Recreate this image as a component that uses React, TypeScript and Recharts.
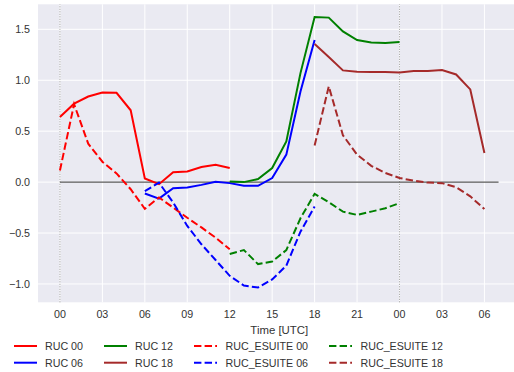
import React from 'react';
import { LineChart, Line, XAxis, YAxis, CartesianGrid, ReferenceLine } from 'recharts';

const hours = [0, 1, 2, 3, 4, 5, 6, 7, 8, 9, 10, 11, 12, 13, 14, 15, 16, 17, 18, 19, 20, 21, 22, 23, 24, 25, 26, 27, 28, 29, 30];
const xTicks = [0, 3, 6, 9, 12, 15, 18, 21, 24, 27, 30];
const yTicks = [-1.0, -0.5, 0.0, 0.5, 1.0, 1.5];

// start hour of each run
const ruc00Start = 0;
const ruc00 = [0.64, 0.77, 0.84, 0.88, 0.877, 0.705, 0.035, -0.02, 0.098, 0.104, 0.148, 0.17, 0.138];
const ruc06Start = 6;
const ruc06 = [-0.112, -0.162, -0.06, -0.053, -0.027, 0.003, -0.01, -0.036, -0.036, 0.04, 0.27, 0.89, 1.395];
const ruc12Start = 12;
const ruc12 = [0.006, 0.0, 0.03, 0.138, 0.4, 1.07, 1.62, 1.615, 1.48, 1.395, 1.37, 1.365, 1.375];
const ruc18Start = 18;
const ruc18 = [1.355, 1.228, 1.097, 1.083, 1.08, 1.08, 1.075, 1.09, 1.09, 1.1, 1.057, 0.91, 0.286];
const esuite00Start = 0;
const esuite00 = [0.114, 0.765, 0.377, 0.2, 0.085, -0.07, -0.262, -0.15, -0.25, -0.35, -0.445, -0.545, -0.66];
const esuite06Start = 6;
const esuite06 = [-0.088, -0.005, -0.2, -0.43, -0.61, -0.765, -0.92, -1.015, -1.035, -0.955, -0.82, -0.487, -0.24];
const esuite12Start = 12;
const esuite12 = [-0.706, -0.667, -0.805, -0.78, -0.667, -0.355, -0.115, -0.197, -0.29, -0.322, -0.29, -0.256, -0.207];
const esuite18Start = 18;
const esuite18 = [0.36, 0.94, 0.46, 0.27, 0.16, 0.09, 0.04, 0.015, -0.005, -0.01, -0.05, -0.14, -0.265];

const seriesDefs = [
  { key: 'RUC 00', start: ruc00Start, values: ruc00, color: '#ff0000', dashed: false },
  { key: 'RUC 06', start: ruc06Start, values: ruc06, color: '#0000ff', dashed: false },
  { key: 'RUC 12', start: ruc12Start, values: ruc12, color: '#008000', dashed: false },
  { key: 'RUC 18', start: ruc18Start, values: ruc18, color: '#a52a2a', dashed: false },
  { key: 'RUC_ESUITE 00', start: esuite00Start, values: esuite00, color: '#ff0000', dashed: true },
  { key: 'RUC_ESUITE 06', start: esuite06Start, values: esuite06, color: '#0000ff', dashed: true },
  { key: 'RUC_ESUITE 12', start: esuite12Start, values: esuite12, color: '#008000', dashed: true },
  { key: 'RUC_ESUITE 18', start: esuite18Start, values: esuite18, color: '#a52a2a', dashed: true },
];

const data = hours.map((h) => {
  const row: Record<string, number | null> = { h };
  seriesDefs.forEach((s) => {
    const i = h - s.start;
    row[s.key] = i >= 0 && i < s.values.length ? s.values[i] : null;
  });
  return row;
});

const FONT = '"Liberation Sans", Arial, sans-serif';
const DASH = '7.4 3.2';

const legendCols = [
  { handleX: 14, textX: 45, items: ['RUC 00', 'RUC 06'] },
  { handleX: 104, textX: 135, items: ['RUC 12', 'RUC 18'] },
  { handleX: 194, textX: 225.5, items: ['RUC_ESUITE 00', 'RUC_ESUITE 06'] },
  { handleX: 329, textX: 360.5, items: ['RUC_ESUITE 12', 'RUC_ESUITE 18'] },
];
const legendRowsY = [346, 362.7];

const fmtHour = (v: number) => String(v % 24).padStart(2, '0');
const fmtY = (v: number) => v.toFixed(1).replace('-', '\u2212');

export default function App() {
  return (
    <div style={{ position: 'absolute', left: 0, top: 0, width: 514, height: 372, overflow: 'hidden', background: '#fff' }}>
      <LineChart
        width={530}
        height={372}
        data={data}
        margin={{ top: 4.3, right: 9.5, bottom: 0, left: 0 }}
        style={{ fontFamily: FONT }}
      >
        <CartesianGrid stroke="#ffffff" strokeWidth={1} fill="#EAEAF2" horizontalValues={yTicks} verticalValues={xTicks} />
        <XAxis
          dataKey="h"
          type="number"
          domain={[-1.55, 32.55]}
          ticks={xTicks}
          tickFormatter={fmtHour}
          axisLine={false}
          tickLine={false}
          height={69.7}
          tick={{ fill: '#333', fontSize: 10.7, fontFamily: FONT }}
          label={{ value: 'Time [UTC]', position: 'insideTop', offset: 24, fill: '#333', fontSize: 11.4, fontFamily: FONT }}
          allowDataOverflow
        />
        <YAxis
          type="number"
          domain={[-1.18, 1.7457]}
          ticks={yTicks}
          tickFormatter={fmtY}
          axisLine={false}
          tickLine={false}
          width={38}
          tick={{ fill: '#333', fontSize: 10.7, fontFamily: FONT }}
          allowDataOverflow
        />
        <ReferenceLine x={0} stroke="#9a9a9a" strokeDasharray="1 1.5" strokeWidth={1} />
        <ReferenceLine x={24} stroke="#9a9a9a" strokeDasharray="1 1.5" strokeWidth={1} />
        <ReferenceLine segment={[{ x: 0, y: 0 }, { x: 31, y: 0 }]} stroke="#333" strokeWidth={1} />
        {seriesDefs.map((s) => (
          <Line
            key={s.key}
            dataKey={s.key}
            type="linear"
            stroke={s.color}
            strokeWidth={2}
            strokeDasharray={s.dashed ? DASH : undefined}
            dot={false}
            activeDot={false}
            connectNulls={false}
            isAnimationActive={false}
          />
        ))}
      </LineChart>
      <svg width={514} height={372} style={{ position: 'absolute', left: 0, top: 0, pointerEvents: 'none' }}>
        {legendCols.map((col) =>
          col.items.map((name, r) => {
            const s = seriesDefs.find((d) => d.key === name)!;
            const y = legendRowsY[r];
            return (
              <g key={name}>
                <line
                  x1={col.handleX}
                  x2={col.handleX + 23}
                  y1={y}
                  y2={y}
                  stroke={s.color}
                  strokeWidth={2}
                  strokeDasharray={s.dashed ? DASH : undefined}
                />
                <text x={col.textX} y={y + 3.8} fontSize={10.7} fontFamily={FONT} fill="#333">
                  {name}
                </text>
              </g>
            );
          })
        )}
      </svg>
    </div>
  );
}
